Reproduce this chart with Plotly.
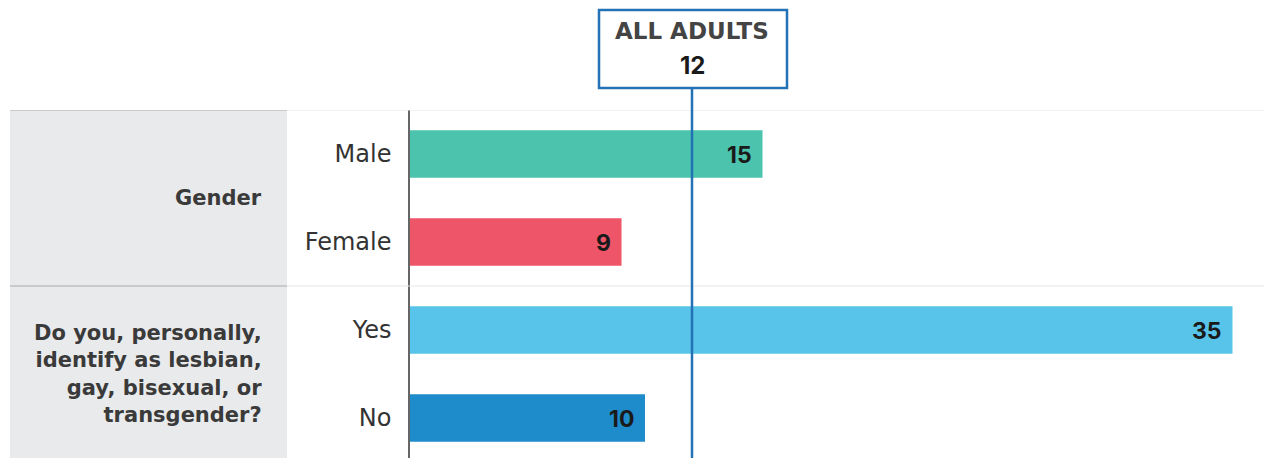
import plotly.graph_objects as go

# values
categories = ["Male", "Female", "Yes", "No"]
values = [15, 9, 35, 10]
bar_colors = ["#4cc3ad", "#ef5568", "#58c4ea", "#1e8bcb"]
groups = ["Gender", "Do you, personally,<br>identify as lesbian,<br>gay, bisexual, or<br>transgender?"]
group_rows = [(0, 1), (2, 3)]
all_adults = 12

# page body has an 8px margin, so the figure is a bit smaller than the window
OFF = 8
W, H = 1272 - OFF, 458 - OFF
FONT = "DejaVu Sans"


def px(x):
    return (x - OFF) / W


def py(y):
    return 1 - (y - OFF) / H


fig = go.Figure(go.Bar(
    y=categories, x=values, orientation="h",
    marker=dict(color=bar_colors, line=dict(width=0)),
    width=0.54, hoverinfo="skip",
))

# value labels just inside the bar ends
for cat, v in zip(categories, values):
    fig.add_annotation(x=v, y=cat, text="<b>%d</b>" % v, showarrow=False,
                       xanchor="right", yanchor="middle", xshift=-9, yshift=-1,
                       font=dict(family="Inter", size=23, color="#1a1a1a"))

# grey row panels and separators
for label, (a, b) in zip(groups, group_rows):
    fig.add_shape(type="rect", xref="paper", yref="y", x0=px(10), x1=px(287),
                  y0=a - 0.5, y1=b + 0.5, fillcolor="#e9eaeb", line=dict(width=0), layer="below")
    fig.add_shape(type="line", xref="paper", yref="y", x0=px(10), x1=px(287),
                  y0=a - 0.5, y1=a - 0.5, line=dict(color="#c9caca", width=2))
    fig.add_shape(type="line", xref="paper", yref="y", x0=px(287), x1=1,
                  y0=a - 0.5, y1=a - 0.5, line=dict(color="#e6e6e6", width=1))
    fig.add_annotation(xref="paper", yref="y", x=px(264), y=(a + b) / 2, text="<b>%s</b>" % label,
                       xanchor="right", yanchor="middle", align="right", showarrow=False,
                       font=dict(family=FONT, size=21, color="#3a3a3a"))

# all adults reference line with box
fig.add_shape(type="line", xref="x", yref="paper", x0=all_adults, x1=all_adults,
              y0=0, y1=py(88), line=dict(color="#2272b5", width=2.5))
fig.add_shape(type="rect", xref="x", yref="paper", xsizemode="pixel", xanchor=all_adults,
              x0=-93, x1=95, y0=py(88), y1=py(10),
              fillcolor="white", line=dict(color="#2272b5", width=2.5))
fig.add_annotation(xref="x", yref="paper", x=all_adults, y=py(31), text="<b>ALL ADULTS</b>",
                   showarrow=False, xanchor="center", yanchor="middle",
                   font=dict(family=FONT, size=23, color="#444444"))
fig.add_annotation(xref="x", yref="paper", x=all_adults, y=py(65), text="<b>%d</b>" % all_adults,
                   showarrow=False, xanchor="center", yanchor="middle",
                   font=dict(family="Inter", size=24, color="#1a1a1a"))

fig.update_layout(
    width=W, height=H, margin=dict(l=0, r=0, t=0, b=0),
    paper_bgcolor="white", plot_bgcolor="white", showlegend=False,
    xaxis=dict(domain=[px(410), 1], range=[0, (1272 - 410) / 23.5], showgrid=False, zeroline=False,
               showticklabels=False, showline=False, fixedrange=True),
    yaxis=dict(domain=[0, py(110)], range=[3.455, -0.5], showgrid=False, zeroline=False,
               showline=True, linecolor="#666666", linewidth=1.5, ticks="",
               ticklabelstandoff=12, tickfont=dict(family=FONT, size=24, color="#333333"),
               categoryorder="array", categoryarray=categories),
)

fig.write_html("out.html")
